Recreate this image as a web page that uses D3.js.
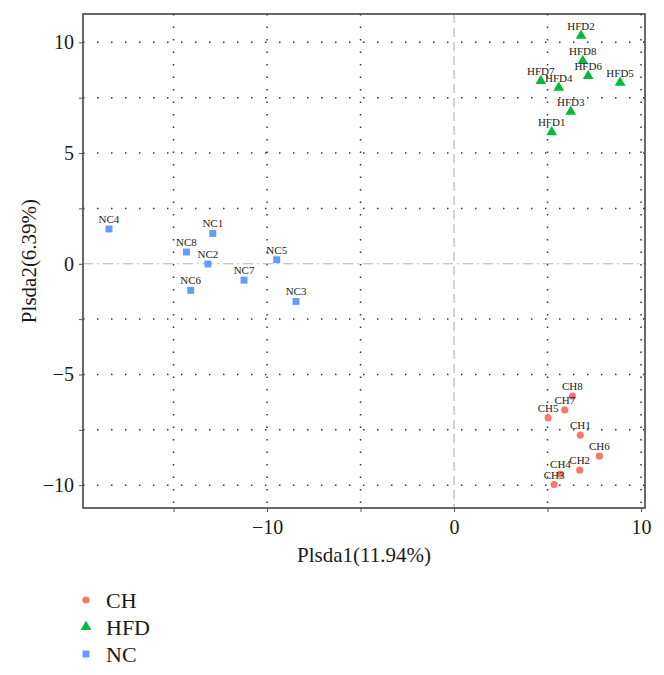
<!DOCTYPE html>
<html>
<head>
<meta charset="utf-8">
<script src="https://cdnjs.cloudflare.com/ajax/libs/d3/7.8.5/d3.min.js"></script>
<style>
	body { margin: 0; background: #fff; }
	text { font-family: "Liberation Serif", "DejaVu Serif", serif; fill: #1a1a1a; }
</style>
</head>
<body>
<div id="chart"></div>
<script>
// sample groups and their scores on the two PLS-DA components
var groups = ["CH", "HFD", "NC"];
var groupColors = ["#F8766D", "#00BA38", "#619CFF"];

var chNames = ["CH1", "CH2", "CH3", "CH4", "CH5", "CH6", "CH7", "CH8"];
var chX = [6.75, 6.72, 5.35, 5.69, 5.03, 7.77, 5.92, 6.33];
var chY = [-7.74, -9.32, -9.97, -9.50, -6.96, -8.69, -6.60, -5.98];

var hfdNames = ["HFD1", "HFD2", "HFD3", "HFD4", "HFD5", "HFD6", "HFD7", "HFD8"];
var hfdX = [5.22, 6.79, 6.24, 5.60, 8.88, 7.17, 4.64, 6.88];
var hfdY = [5.94, 10.30, 6.87, 7.95, 8.18, 8.48, 8.26, 9.16];

var ncNames = ["NC1", "NC2", "NC3", "NC4", "NC5", "NC6", "NC7", "NC8"];
var ncX = [-12.90, -13.16, -8.45, -18.45, -9.48, -14.08, -11.23, -14.31];
var ncY = [1.37, -0.01, -1.70, 1.57, 0.18, -1.20, -0.74, 0.53];

var xTicks = [-10, 0, 10];
var xMinor = [-15, -5, 5];
var yTicks = [-10, -5, 0, 5, 10];
var yMinor = [-7.5, -2.5, 2.5, 7.5];

var xTitle = "Plsda1(11.94%)";
var yTitle = "Plsda2(6.39%)";

function buildPoints(){
	var pts = [];
	function add(names, xs, ys, g){
		names.forEach(function(n, i){
			pts.push({ name: n, x: xs[i], y: ys[i], group: g });
		});
	}
	add(chNames, chX, chY, "CH");
	add(hfdNames, hfdX, hfdY, "HFD");
	add(ncNames, ncX, ncY, "NC");
	return pts;
}

function drawPlot(points, container){
	var W = 664, H = 675;
	var left = 83, right = 645, top = 14, bottom = 508;

	var svg = d3.select("#" + container).append("svg")
		.attr("width", W)
		.attr("height", H);

	var x = d3.scaleLinear().domain([-19.84, 10.21]).range([left, right]);
	var y = d3.scaleLinear().domain([-11.03, 11.28]).range([bottom, top]);
	var color = d3.scaleOrdinal().domain(groups).range(groupColors);
	var shape = d3.scaleOrdinal().domain(groups)
		.range([d3.symbolCircle, d3.symbolTriangle, d3.symbolSquare]);
	var size = d3.scaleOrdinal().domain(groups).range([40, 50, 48]);
	var fmt = d3.format("d");

	// dotted grid
	var grid = svg.append("g").attr("class", "grid");
	grid.selectAll(".vgrid")
		.data(xTicks.concat(xMinor).filter(function(d){ return d !== 0; }))
		.enter().append("line")
		.attr("x1", function(d){ return x(d); })
		.attr("x2", function(d){ return x(d); })
		.attr("y1", top).attr("y2", bottom)
		.style("stroke", "#333").style("stroke-width", 1.5)
		.style("stroke-dasharray", "1.5,11");
	grid.selectAll(".hgrid")
		.data(yTicks.concat(yMinor).filter(function(d){ return d !== 0; }))
		.enter().append("line")
		.attr("y1", function(d){ return y(d); })
		.attr("y2", function(d){ return y(d); })
		.attr("x1", left).attr("x2", right)
		.style("stroke", "#333").style("stroke-width", 1.5)
		.style("stroke-dasharray", "1.5,12.5");

	// zero reference lines
	svg.append("line")
		.attr("x1", x(0)).attr("x2", x(0))
		.attr("y1", top).attr("y2", bottom)
		.style("stroke", "#b5b5b5").style("stroke-width", 1.2)
		.style("stroke-dasharray", "9,5");
	svg.append("line")
		.attr("x1", left).attr("x2", right)
		.attr("y1", y(0)).attr("y2", y(0))
		.style("stroke", "#b5b5b5").style("stroke-width", 1.2)
		.style("stroke-dasharray", "10,4,2,4");

	// axes
	var xAxis = d3.axisBottom(x).tickValues(xTicks.concat(xMinor))
		.tickSize(4).tickPadding(5)
		.tickFormat(function(d){ return xTicks.indexOf(d) >= 0 ? fmt(d) : ""; });
	var yAxis = d3.axisLeft(y).tickValues(yTicks.concat(yMinor))
		.tickSize(4).tickPadding(5)
		.tickFormat(function(d){ return yTicks.indexOf(d) >= 0 ? fmt(d) : ""; });

	var gx = svg.append("g").attr("transform", "translate(0," + bottom + ")").call(xAxis);
	var gy = svg.append("g").attr("transform", "translate(" + left + ",0)").call(yAxis);
	[gx, gy].forEach(function(g){
		g.select(".domain").remove();
		g.selectAll(".tick line").style("stroke", "#555");
		g.selectAll(".tick text").style("font-size", "20px")
			.style("font-family", "'Liberation Serif', serif").style("fill", "#1a1a1a");
	});
	gx.selectAll(".tick text").attr("dy", "0.85em");

	// panel border
	svg.append("rect")
		.attr("x", left).attr("y", top)
		.attr("width", right - left).attr("height", bottom - top)
		.style("fill", "none").style("stroke", "#444").style("stroke-width", 1.6);

	// points
	svg.selectAll(".pt")
		.data(points)
		.enter().append("path")
		.attr("class", "pt")
		.attr("transform", function(d){ return "translate(" + x(d.x) + "," + y(d.y) + ")"; })
		.attr("d", function(d){ return d3.symbol().type(shape(d.group)).size(size(d.group))(); })
		.style("fill", function(d){ return color(d.group); });

	// labels above points
	svg.selectAll(".lbl")
		.data(points)
		.enter().append("text")
		.attr("class", "lbl")
		.attr("x", function(d){ return x(d.x); })
		.attr("y", function(d){ return y(d.y) - 6; })
		.style("text-anchor", "middle")
		.style("font-size", "11px")
		.text(function(d){ return d.name; });

	// axis titles
	svg.append("text")
		.attr("x", (left + right) / 2).attr("y", 562)
		.style("text-anchor", "middle").style("font-size", "21px")
		.text(xTitle);
	svg.append("text")
		.attr("transform", "translate(36," + ((top + bottom) / 2) + ") rotate(-90)")
		.style("text-anchor", "middle").style("font-size", "21px")
		.text(yTitle);

	// legend
	var legend = svg.selectAll(".legend")
		.data(groups)
		.enter().append("g")
		.attr("class", "legend")
		.attr("transform", function(d, i){ return "translate(86," + (600 + i * 27) + ")"; });
	legend.append("path")
		.attr("d", function(d){ return d3.symbol().type(shape(d)).size(size(d))(); })
		.style("fill", function(d){ return color(d); });
	legend.append("text")
		.attr("x", 20).attr("y", 8)
		.style("font-size", "22px")
		.text(function(d){ return d; });
}

drawPlot(buildPoints(), "chart");
</script>
</body>
</html>
